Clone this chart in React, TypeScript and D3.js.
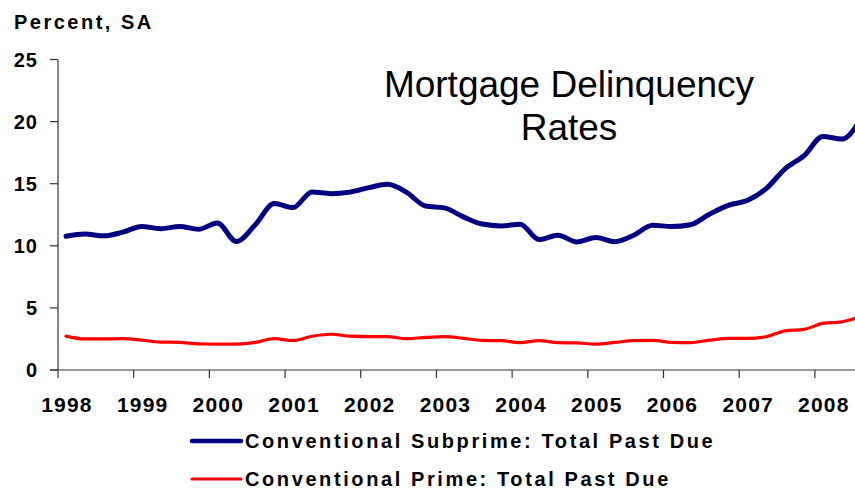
import React from 'react';
import * as d3 from 'd3';

// Quarterly observations, first one at ~Feb 1998
const firstObs = 1998.106;
const subprime = [
  10.77, 10.95, 10.8, 11.1, 11.55, 11.38, 11.55, 11.33, 11.84, 10.34,
  11.7, 13.4, 13.08, 14.33, 14.2, 14.32, 14.68, 14.95, 14.3, 13.2,
  13.05, 12.33, 11.75, 11.6, 11.74, 10.5, 10.85, 10.31, 10.67, 10.33,
  10.85, 11.66, 11.55, 11.7, 12.54, 13.25, 13.65, 14.6, 16.2, 17.25,
  18.8, 18.6, 20.2,
];
const prime = [
  2.73, 2.5, 2.5, 2.52, 2.4, 2.25, 2.23, 2.1, 2.09, 2.09,
  2.22, 2.52, 2.38, 2.72, 2.88, 2.72, 2.68, 2.68, 2.52, 2.62,
  2.68, 2.55, 2.38, 2.36, 2.2, 2.36, 2.2, 2.18, 2.09, 2.22,
  2.36, 2.38, 2.22, 2.2, 2.4, 2.55, 2.55, 2.68, 3.15, 3.27,
  3.75, 3.88, 4.3,
];
const yearTicks = [1998, 1999, 2000, 2001, 2002, 2003, 2004, 2005, 2006, 2007, 2008];
const yTicks = [0, 5, 10, 15, 20, 25];
const seriesNames = ['Conventional Subprime: Total Past Due', 'Conventional Prime: Total Past Due'];
const titleLines = ['Mortgage Delinquency', 'Rates'];
const yAxisLabel = 'Percent, SA';

const W = 855;
const H = 491;
const left = 58;
const right = 855;
const bottom = 370;
const top = 59.5;

export default function App() {
  const x = d3.scaleLinear().domain([1998, 2008.53]).range([left, right]);
  const y = d3.scaleLinear().domain([0, 25]).range([bottom, top]);
  const tOf = (i: number) => firstObs + i * 0.25;
  const line = d3
    .line<number>()
    .x((_, i) => x(tOf(i)))
    .y((d) => y(d))
    .curve(d3.curveMonotoneX);

  const font = "'Liberation Sans', Arial, sans-serif";
  return (
    <svg
      width={W}
      height={H}
      style={{ position: 'absolute', left: 0, top: 0, background: '#fff' }}
    >
      <rect width={W} height={H} fill="#fff" />
      <text x={14} y={29} fontFamily={font} fontWeight="bold" fontSize={20} letterSpacing={2.5} fill="#000">
        {yAxisLabel}
      </text>
      {/* title */}
      <text x={569} y={97} textAnchor="middle" fontFamily={font} fontSize={37} fill="#000">
        {titleLines[0]}
      </text>
      <text x={569} y={140} textAnchor="middle" fontFamily={font} fontSize={37} fill="#000">
        {titleLines[1]}
      </text>
      {/* y axis */}
      <line x1={left} x2={left} y1={y(25)} y2={bottom} stroke="#333" strokeWidth={1.2} />
      {yTicks.map((t) => (
        <g key={t}>
          <line x1={left - 8} x2={left} y1={y(t)} y2={y(t)} stroke="#333" strokeWidth={1.2} />
          <text
            x={38}
            y={y(t)}
            dy="0.36em"
            textAnchor="end"
            fontFamily={font}
            fontWeight="bold"
            fontSize={20}
            letterSpacing={1}
            fill="#000"
          >
            {t}
          </text>
        </g>
      ))}
      {/* x axis */}
      <line x1={left - 8} x2={right} y1={bottom} y2={bottom} stroke="#333" strokeWidth={1.2} />
      {yearTicks.map((yr) => (
        <g key={yr}>
          <line x1={x(yr)} x2={x(yr)} y1={bottom} y2={bottom + 8} stroke="#333" strokeWidth={1.2} />
          <text
            x={x(yr) + 9}
            y={412}
            textAnchor="middle"
            fontFamily={font}
            fontWeight="bold"
            fontSize={21}
            letterSpacing={1.2}
            fill="#000"
          >
            {yr}
          </text>
        </g>
      ))}
      {/* series */}
      <path d={line(prime) || ''} fill="none" stroke="#FF0000" strokeWidth={3.2} strokeLinejoin="round" strokeLinecap="round" />
      <path d={line(subprime) || ''} fill="none" stroke="#000080" strokeWidth={5} strokeLinejoin="round" strokeLinecap="round" />
      {/* legend */}
      <line x1={192} x2={241} y1={441} y2={441} stroke="#000080" strokeWidth={4.5} strokeLinecap="round" />
      <text x={245} y={448} fontFamily={font} fontWeight="bold" fontSize={20} letterSpacing={2.6} fill="#000">
        {seriesNames[0]}
      </text>
      <line x1={192} x2={241} y1={479} y2={479} stroke="#FF0000" strokeWidth={3} strokeLinecap="round" />
      <text x={245} y={486} fontFamily={font} fontWeight="bold" fontSize={20} letterSpacing={2.6} fill="#000">
        {seriesNames[1]}
      </text>
    </svg>
  );
}
